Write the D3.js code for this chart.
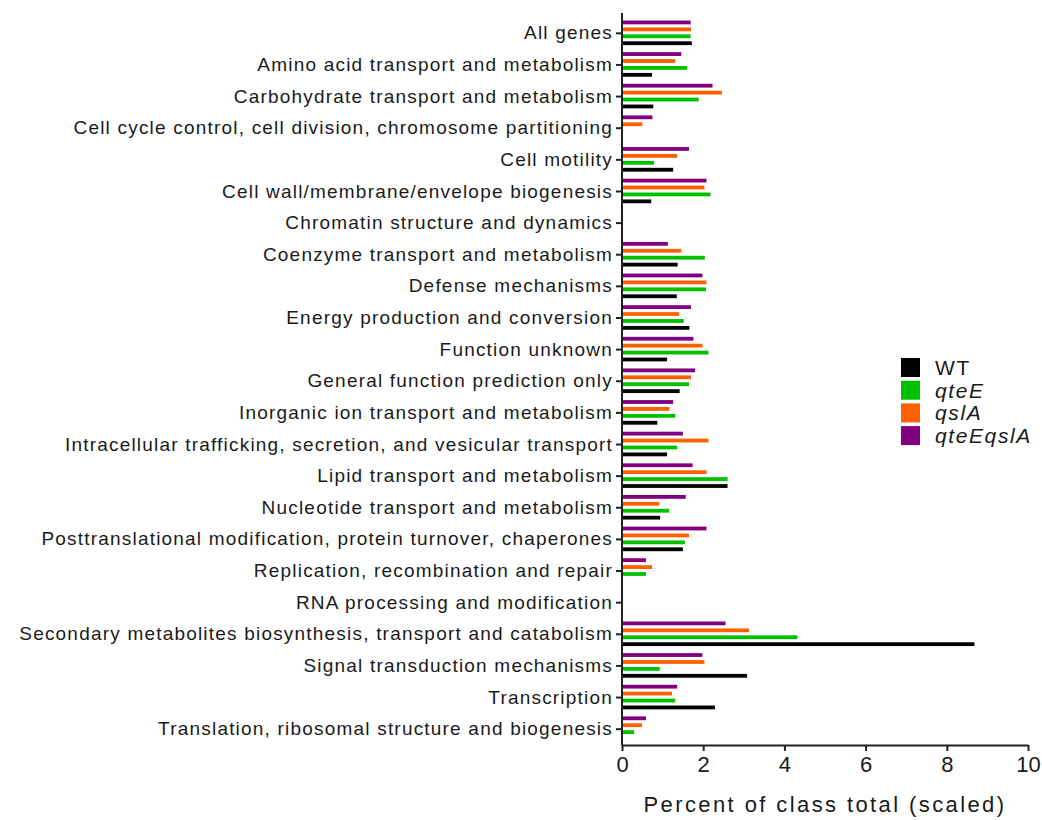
<!DOCTYPE html>
<html>
<head>
<meta charset="utf-8">
<script src="https://cdn.jsdelivr.net/npm/d3@7"></script>
<style>
  body { margin: 0; background: #fff; }
  svg text { font-family: 'Liberation Sans', Arial, sans-serif; fill: #1a1a1a; }
  .axis path, .axis line { stroke: #222; stroke-width: 2; }
</style>
</head>
<body>
<div id="chart"></div>
<script>
// Chart data

let categories = [
  'All genes',
  'Amino acid transport and metabolism',
  'Carbohydrate transport and metabolism',
  'Cell cycle control, cell division, chromosome partitioning',
  'Cell motility',
  'Cell wall/membrane/envelope biogenesis',
  'Chromatin structure and dynamics',
  'Coenzyme transport and metabolism',
  'Defense mechanisms',
  'Energy production and conversion',
  'Function unknown',
  'General function prediction only',
  'Inorganic ion transport and metabolism',
  'Intracellular trafficking, secretion, and vesicular transport',
  'Lipid transport and metabolism',
  'Nucleotide transport and metabolism',
  'Posttranslational modification, protein turnover, chaperones',
  'Replication, recombination and repair',
  'RNA processing and modification',
  'Secondary metabolites biosynthesis, transport and catabolism',
  'Signal transduction mechanisms',
  'Transcription',
  'Translation, ribosomal structure and biogenesis'
]

let wtValues = [1.72, 0.74, 0.77, 0, 1.26, 0.72, 0, 1.37, 1.35, 1.66, 1.11, 1.42,
  0.87, 1.11, 2.60, 0.94, 1.50, 0, 0, 8.68, 3.08, 2.29, 0]
let qteEValues = [1.69, 1.60, 1.89, 0, 0.79, 2.18, 0, 2.04, 2.07, 1.52, 2.13, 1.65,
  1.31, 1.36, 2.60, 1.16, 1.55, 0.59, 0, 4.32, 0.93, 1.31, 0.30]
let qslAValues = [1.70, 1.31, 2.46, 0.50, 1.36, 2.03, 0, 1.46, 2.08, 1.41, 1.98, 1.70,
  1.17, 2.13, 2.08, 0.92, 1.65, 0.74, 0, 3.13, 2.03, 1.23, 0.49]
let qteEqslAValues = [1.69, 1.46, 2.23, 0.75, 1.65, 2.08, 0, 1.13, 1.98, 1.70, 1.76, 1.80,
  1.26, 1.50, 1.74, 1.57, 2.08, 0.59, 0, 2.55, 1.98, 1.36, 0.59]

let legendNames = ['WT', 'qteE', 'qslA', 'qteEqslA']
let xTicks = [0, 2, 4, 6, 8, 10]

// Series as drawn inside one group, top to bottom
let series = [
  { name: 'qteEqslA', values: qteEqslAValues, color: '#800080' },
  { name: 'qslA', values: qslAValues, color: '#ff6000' },
  { name: 'qteE', values: qteEValues, color: '#00c000' },
  { name: 'WT', values: wtValues, color: '#000000' }
]
let colorOf = {}
series.forEach(s => { colorOf[s.name] = s.color })

// Layout
let margin = { top: 13, right: 14, bottom: 75, left: 622 },
    fullWidth = 1042,
    fullHeight = 820,
    width = fullWidth - margin.left - margin.right,
    height = fullHeight - margin.top - margin.bottom

let svg = d3.select('#chart').append('svg')
    .attr('width', fullWidth)
    .attr('height', fullHeight)
    .append('g')
    .attr('transform', 'translate(' + margin.left + ',' + margin.top + ')')

// Scales
let xScale = d3.scaleLinear()
    .domain([0, 10])
    .range([0, 406])

let yScale = d3.scaleBand()
    .domain(categories)
    .range([4.5, height])

let ySub = d3.scaleBand()
    .domain(series.map(s => s.name))
    .range([1.5, yScale.bandwidth() - 2.5])
    .paddingInner(0.45)
    .paddingOuter(0.22)

// Bars
let groups = svg.selectAll('.group')
    .data(categories)
    .enter().append('g')
    .attr('class', 'group')
    .attr('transform', d => 'translate(0,' + yScale(d) + ')')

groups.selectAll('rect')
    .data((d, i) => series.map(s => ({ name: s.name, value: s.values[i] })))
    .enter().append('rect')
    .filter(d => d.value > 0)
    .attr('x', 0)
    .attr('y', d => ySub(d.name))
    .attr('width', d => xScale(d.value))
    .attr('height', ySub.bandwidth())
    .attr('fill', d => colorOf[d.name])

// Axes
let yAxis = d3.axisLeft(yScale)
    .tickSize(6)
    .tickSizeOuter(0)
    .tickPadding(3)

let yAxisG = svg.append('g')
    .attr('class', 'axis axis-y')
    .call(yAxis)

// the axis line starts a little above the first band
yAxisG.select('.domain').attr('d', 'M0,0V' + height)

yAxisG.selectAll('text')
    .style('font-size', '19px')
    .style('letter-spacing', '1.2px')

let xAxis = d3.axisBottom(xScale)
    .tickValues(xTicks)
    .tickSize(6)
    .tickSizeOuter(0)
    .tickPadding(5)

svg.append('g')
    .attr('class', 'axis axis-x')
    .attr('transform', 'translate(0,' + height + ')')
    .call(xAxis)
    .selectAll('text')
    .style('font-size', '22px')

svg.append('text')
    .attr('class', 'title')
    .attr('text-anchor', 'middle')
    .attr('x', xScale(5))
    .attr('y', height + 67)
    .style('font-size', '22px')
    .style('letter-spacing', '2.4px')
    .text('Percent of class total (scaled)')

// Legend
let legend = svg.append('g')
    .attr('class', 'legend')
    .attr('transform', 'translate(279,345)')

let legendItems = legend.selectAll('.item')
    .data(legendNames)
    .enter().append('g')
    .attr('class', 'item')
    .attr('transform', (d, i) => 'translate(0,' + i * 22.7 + ')')

legendItems.append('rect')
    .attr('x', 0)
    .attr('y', 0)
    .attr('width', 19)
    .attr('height', 19)
    .attr('fill', d => colorOf[d])

legendItems.append('text')
    .attr('x', 34)
    .attr('y', 9.5)
    .attr('dy', '0.36em')
    .style('font-size', '21px')
    .style('letter-spacing', '1.6px')
    .style('font-style', d => d === 'WT' ? 'normal' : 'italic')
    .text(d => d)
</script>
</body>
</html>
